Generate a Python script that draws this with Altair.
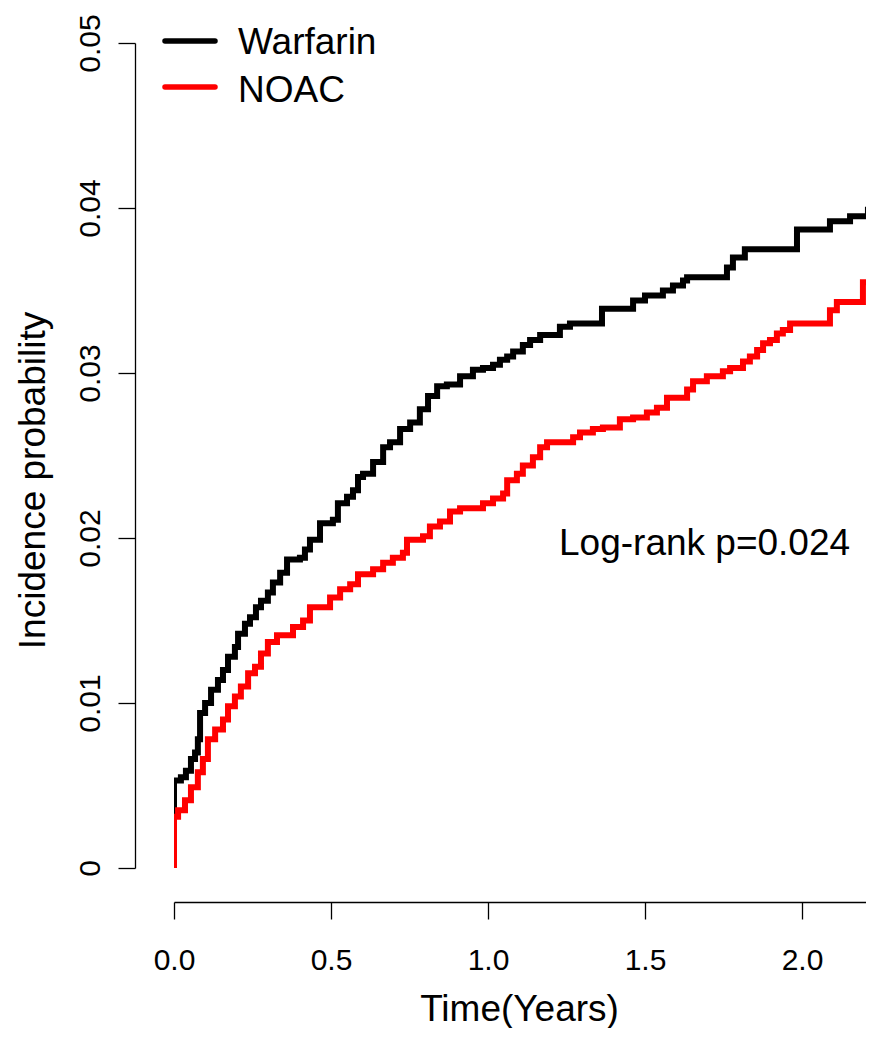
import altair as alt
import pandas as pd

# ---- data (time in years, cumulative incidence) ----
warfarin_t = [0.000, 0.000, 0.000, 0.022, 0.038, 0.054, 0.067, 0.076, 0.083, 0.099,
              0.118, 0.140, 0.156, 0.172, 0.194, 0.204, 0.226, 0.242, 0.261, 0.277,
              0.299, 0.315, 0.338, 0.360, 0.401, 0.417, 0.433, 0.465, 0.506, 0.522,
              0.551, 0.570, 0.586, 0.602, 0.634, 0.666, 0.688, 0.720, 0.752, 0.783,
              0.809, 0.838, 0.869, 0.911, 0.952, 0.984, 1.016, 1.038, 1.061, 1.080,
              1.111, 1.134, 1.166, 1.229, 1.261, 1.363, 1.462, 1.500, 1.557, 1.589,
              1.621, 1.634, 1.761, 1.780, 1.818, 1.984, 2.089, 2.153, 2.210, 2.230]
warfarin_p = [0.0000, 0.0031, 0.0053, 0.0055, 0.0059, 0.0066, 0.0070, 0.0078, 0.0094, 0.0100,
              0.0108, 0.0114, 0.0120, 0.0128, 0.0134, 0.0142, 0.0148, 0.0152, 0.0158, 0.0162,
              0.0167, 0.0173, 0.0179, 0.0187, 0.0188, 0.0193, 0.0199, 0.0209, 0.0211, 0.0221,
              0.0225, 0.0229, 0.0237, 0.0239, 0.0246, 0.0255, 0.0258, 0.0266, 0.0270, 0.0278,
              0.0286, 0.0292, 0.0293, 0.0298, 0.0302, 0.0303, 0.0305, 0.0308, 0.0310, 0.0313,
              0.0317, 0.0320, 0.0323, 0.0328, 0.0330, 0.0339, 0.0344, 0.0347, 0.0350, 0.0353,
              0.0356, 0.0358, 0.0364, 0.0370, 0.0375, 0.0387, 0.0392, 0.0395, 0.0399, 0.0399]

noac_t = [0.000, 0.000, 0.013, 0.035, 0.054, 0.076, 0.092, 0.108, 0.131, 0.156,
          0.172, 0.194, 0.213, 0.236, 0.258, 0.277, 0.299, 0.328, 0.379, 0.411,
          0.433, 0.465, 0.497, 0.529, 0.561, 0.586, 0.634, 0.666, 0.697, 0.729,
          0.742, 0.793, 0.815, 0.847, 0.879, 0.911, 0.984, 1.016, 1.048, 1.061,
          1.092, 1.111, 1.143, 1.166, 1.188, 1.271, 1.293, 1.334, 1.366, 1.420,
          1.462, 1.506, 1.538, 1.570, 1.634, 1.653, 1.697, 1.748, 1.771, 1.812,
          1.834, 1.857, 1.876, 1.898, 1.920, 1.939, 1.962, 2.089, 2.111, 2.194,
          2.217, 2.230]
noac_p = [0.0000, 0.0031, 0.0035, 0.0041, 0.0049, 0.0058, 0.0066, 0.0078, 0.0084, 0.0090,
          0.0098, 0.0104, 0.0110, 0.0118, 0.0122, 0.0130, 0.0137, 0.0141, 0.0146, 0.0150,
          0.0158, 0.0158, 0.0164, 0.0169, 0.0172, 0.0178, 0.0181, 0.0185, 0.0188, 0.0191,
          0.0199, 0.0201, 0.0207, 0.0210, 0.0216, 0.0218, 0.0221, 0.0224, 0.0227, 0.0235,
          0.0239, 0.0244, 0.0249, 0.0255, 0.0258, 0.0261, 0.0264, 0.0266, 0.0267, 0.0272,
          0.0273, 0.0276, 0.0279, 0.0285, 0.0290, 0.0295, 0.0298, 0.0301, 0.0303, 0.0307,
          0.0310, 0.0314, 0.0318, 0.0320, 0.0324, 0.0326, 0.0330, 0.0338, 0.0343, 0.0355,
          0.0358, 0.0358]

series = ["Warfarin", "NOAC"]
colors = ["#000000", "#FF0000"]
x_ticks = [0.0, 0.5, 1.0, 1.5, 2.0]
y_ticks = [0.0, 0.01, 0.02, 0.03, 0.04, 0.05]
annotation = "Log-rank p=0.024"

FONT = "Liberation Sans"

df_w = pd.DataFrame({"t": warfarin_t, "p": warfarin_p, "i": range(len(warfarin_t))})
df_n = pd.DataFrame({"t": noac_t, "p": noac_p, "i": range(len(noac_t))})

# plot area spans 692 px at 314 px per year
x_scale = alt.Scale(domain=[0, 2.2038], nice=False, zero=False)
y_scale = alt.Scale(domain=[0, 0.05], nice=False)

x_axis = alt.Axis(values=x_ticks, format=".1f", offset=34, tickSize=17, tickWidth=1.3,
                  domainWidth=1.3, domainColor="black", tickColor="black",
                  labelFontSize=30, labelPadding=26, labelColor="black", labelFlush=False,
                  labelOverlap=False, grid=False, title="Time(Years)", titleFontSize=37,
                  titleFontWeight="normal", titleColor="black", titleX=345, titleY=118,
                  titleBaseline="alphabetic", titleAlign="center")
y_axis = alt.Axis(values=y_ticks,
                  labelExpr="datum.value == 0 ? '0' : format(datum.value, '.2f')",
                  offset=39, tickSize=17, tickWidth=1.3, domainWidth=1.3,
                  domainColor="black", tickColor="black", labelAngle=270,
                  labelAlign="center", labelBaseline="alphabetic", labelPadding=19,
                  labelFontSize=30, labelColor="black", labelFlush=False, labelOverlap=False,
                  grid=False, title="Incidence probability", titleFontSize=37,
                  titleFontWeight="normal", titleColor="black", titleAngle=270,
                  titleX=-91, titleY=437, titleBaseline="alphabetic", titleAlign="center")

line_w = alt.Chart(df_w).mark_line(interpolate="step-after", strokeWidth=6, clip=True,
                                   color=colors[0]).encode(
    x=alt.X("t:Q", scale=x_scale, axis=x_axis),
    y=alt.Y("p:Q", scale=y_scale, axis=y_axis),
    order="i:Q",
)
line_n = alt.Chart(df_n).mark_line(interpolate="step-after", strokeWidth=6, clip=True,
                                   color=colors[1]).encode(
    x=alt.X("t:Q", scale=x_scale),
    y=alt.Y("p:Q", scale=y_scale),
    order="i:Q",
)

legend_layers = []
for k, (name, col) in enumerate(zip(series, colors)):
    legend_layers.append(
        alt.Chart(df_w.head(1)).mark_rule(strokeWidth=5.5, strokeCap="round", color=col).encode(
            x=alt.value(-9), x2=alt.value(41), y=alt.value(-2 + 46 * k)))
    legend_layers.append(
        alt.Chart(df_w.head(1)).mark_text(align="left", baseline="alphabetic", fontSize=37,
                                          font=FONT, color="black").encode(
            x=alt.value(64), y=alt.value(11 + 48 * k), text=alt.value(name)))

annot = alt.Chart(df_w.head(1)).mark_text(align="left", baseline="alphabetic", fontSize=37,
                                          font=FONT, color="black").encode(
    x=alt.value(385), y=alt.value(512), text=alt.value(annotation))

chart = alt.layer(line_w, line_n, annot, *legend_layers).properties(
    width=692, height=825,
    autosize=alt.AutoSizeParams(type="none"),
    padding={"left": 166, "top": 35, "right": 0, "bottom": 160},
).configure(
    font=FONT,
    view=alt.ViewConfig(strokeWidth=0, stroke="transparent"),
    axis=alt.AxisConfig(grid=False),
)

chart.save("out.html", embed_options={"renderer": "svg", "actions": False})
